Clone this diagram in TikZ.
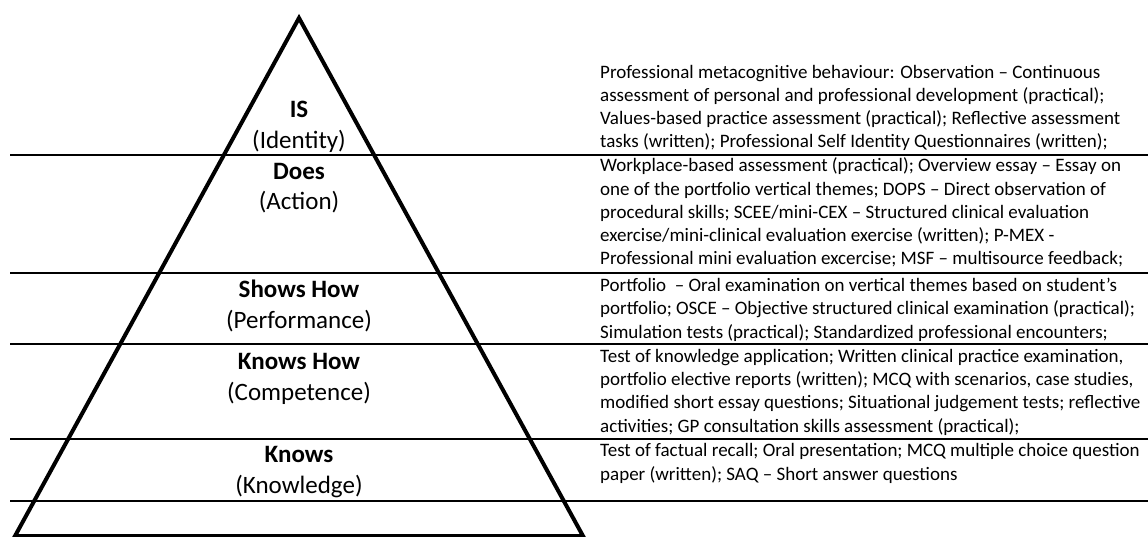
\documentclass[tikz,border=0pt]{standalone}
\usepackage{fontspec}
\setmainfont{Carlito}
\begin{document}
\begin{tikzpicture}[x=1pt,y=-1pt,
  level/.style={align=center,inner sep=0pt,font=\fontsize{25}{30.5}\selectfont},
  tests/.style={anchor=base west,align=left,inner sep=0pt,font=\fontsize{19}{23.3}\selectfont}]
\useasboundingbox (0,0) rectangle (1148,537);
\draw[line width=2pt] (10,155) -- (1148,155);
\draw[line width=2pt] (10,273) -- (1148,273);
\draw[line width=2pt] (10,344) -- (1148,344);
\draw[line width=2pt] (10,439) -- (1148,439);
\draw[line width=2pt] (10,501) -- (1148,501);
\draw[line width=4pt] (15,536) -- (299,18) -- (583,536) -- cycle;
\node[level] (is) at (299,127) {\textbf{IS}\\(Identity)};
\node[level] (does) at (299,188) {\textbf{Does}\\(Action)};
\node[level] (shows) at (299,306) {\textbf{Shows How}\\(Performance)};
\node[level] (knowshow) at (299,379) {\textbf{Knows How}\\(Competence)};
\node[level] (knows) at (299,472) {\textbf{Knows}\\(Knowledge)};
% anchored at the baseline of the last line of each block
\node[tests] (identity) at (600,148) {Professional metacognitive behaviour: Observation – Continuous\\
assessment of personal and professional development (practical);\\
Values-based practice assessment (practical); Reflective assessment\\
tasks (written); Professional Self Identity Questionnaires (written);};
\node[tests] (action) at (600,265) {Workplace-based assessment (practical); Overview essay – Essay on\\
one of the portfolio vertical themes; DOPS – Direct observation of\\
procedural skills; SCEE/mini-CEX – Structured clinical evaluation\\
exercise/mini-clinical evaluation exercise (written); P-MEX -\\
Professional mini evaluation excercise; MSF – multisource feedback;};
\node[tests] (performance) at (600,338) {Portfolio \ – Oral examination on vertical themes based on student’s\\
portfolio; OSCE – Objective structured clinical examination (practical);\\
Simulation tests (practical); Standardized professional encounters;};
\node[tests] (competence) at (600,432) {Test of knowledge application; Written clinical practice examination,\\
portfolio elective reports (written); MCQ with scenarios, case studies,\\
modified short essay questions; Situational judgement tests; reflective\\
activities; GP consultation skills assessment (practical);};
\node[tests] (knowledge) at (600,480) {Test of factual recall; Oral presentation; MCQ multiple choice question\\
paper (written); SAQ – Short answer questions};
\end{tikzpicture}
\end{document}
